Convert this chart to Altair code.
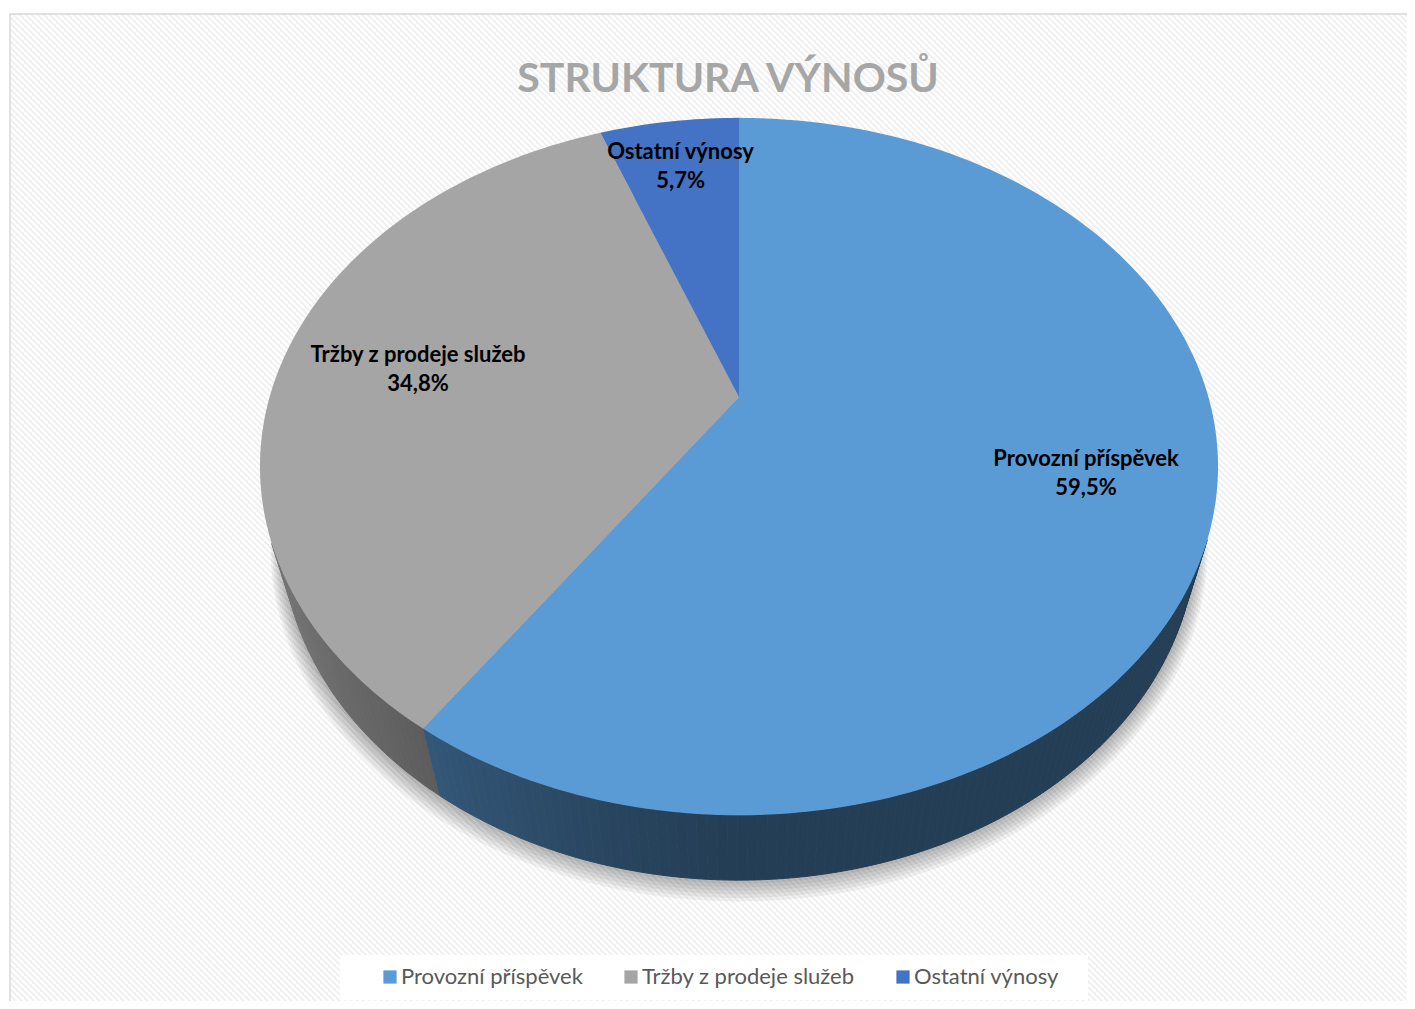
import numpy as np
import pandas as pd
import altair as alt

# ---------------- data ----------------
categories = ["Provozní příspěvek", "Tržby z prodeje služeb", "Ostatní výnosy"]
shares = [59.5, 34.8, 5.7]
share_labels = ["59,5%", "34,8%", "5,7%"]
top_colors = ["#5b9bd5", "#a5a5a5", "#4472c4"]
title_text = "STRUKTURA VÝNOSŮ"

# ---------------- style / geometry ----------------
W, H = 1399, 993
CX, CY = 731.0, 389.0          # apex of the pie (plot coordinates)
FOC = 1649.5                   # perspective focal length
DIST = 3.514                   # camera distance (in pie radii)
PHI = np.radians(45.5)         # elevation angle
DEPTH = 0.225                  # pie thickness (in radii)
label_radius = [0.74, 0.70, 0.81]
FONT = "Lato"


def proj(X, D, Hh):
    zc = DIST + D * np.cos(PHI) - Hh * np.sin(PHI)
    yc = D * np.sin(PHI) + Hh * np.cos(PHI)
    return CX + FOC * X / zc, CY - FOC * yc / zc


def hex_to_rgb(h):
    h = h.lstrip("#")
    return [int(h[i:i + 2], 16) for i in (0, 2, 4)]


def shade(h, f):
    r, g, b = hex_to_rgb(h)
    return "#%02x%02x%02x" % (int(r * f), int(g * f), int(b * f))


total = sum(shares)
cum = np.concatenate([[0.0], np.cumsum(shares)]) / total * 2 * np.pi

# top faces
top_rows = []
for i, cat in enumerate(categories):
    t1, t2 = cum[i], cum[i + 1]
    n = max(8, int(np.degrees(t2 - t1)))
    top_rows.append(dict(poly=f"top{i}", ord=0, x=CX, y=CY, cat=cat))
    for j, t in enumerate(np.linspace(t1, t2, n)):
        x, y = proj(np.sin(t), np.cos(t), 0.0)
        top_rows.append(dict(poly=f"top{i}", ord=j + 1, x=x, y=y, cat=cat))
top_df = pd.DataFrame(top_rows)

# side wall strips (visible front part only)
vis_cos = -1.0 / (DIST * np.cos(PHI))
side_rows = []
k = 0
for i, cat in enumerate(categories):
    t1, t2 = cum[i], cum[i + 1]
    n = max(3, int(np.degrees(t2 - t1)) + 1)
    ts = np.linspace(t1, t2, n)
    for a, b in zip(ts[:-1], ts[1:]):
        if not (np.cos(a) < vis_cos or np.cos(b) < vis_cos):
            continue
        mid = 0.5 * (a + b)
        f = 0.40 + 0.35 * max(0.0, -np.sin(mid)) ** 1.3
        col = shade(top_colors[i], f)
        pts = [proj(np.sin(a), np.cos(a), 0.0), proj(np.sin(b), np.cos(b), 0.0),
               proj(np.sin(b), np.cos(b), -DEPTH), proj(np.sin(a), np.cos(a), -DEPTH)]
        for o, (x, y) in enumerate(pts):
            side_rows.append(dict(poly=f"s{k}", ord=o, x=x, y=y, col=col))
        k += 1
side_df = pd.DataFrame(side_rows)

# soft shadow below the pie
sh_rows = []
ts = np.linspace(0, 2 * np.pi, 241)
for j in range(1, 7):
    s = 1 + 0.004 * j
    for o, t in enumerate(ts):
        x, y = proj(s * np.sin(t), s * np.cos(t), -DEPTH)
        sh_rows.append(dict(poly=f"sh{j}", ord=o, x=x, y=y + 1.5 * j))
sh_df = pd.DataFrame(sh_rows)

# background hatch
hatch_rows = []
for c in range(-W, W + 1, 6):
    ys = max(6, 2 - c)
    ye = min(H, W - c)
    if ys < ye:
        hatch_rows.append(dict(x=c + ys, y=ys, x2=c + ye, y2=ye))
hatch_df = pd.DataFrame(hatch_rows)

# labels
lab_rows = []
for i, cat in enumerate(categories):
    tm = 0.5 * (cum[i] + cum[i + 1])
    r = label_radius[i]
    x, y = proj(r * np.sin(tm), r * np.cos(tm), 0.0)
    lab_rows.append(dict(x=x, y=y, name=cat, pct=share_labels[i]))
lab_df = pd.DataFrame(lab_rows)

# ---------------- chart ----------------
xs = alt.Scale(domain=[0, W], nice=False, zero=False)
ys = alt.Scale(domain=[0, H], nice=False, zero=False, reverse=True)
X = alt.X("x:Q", scale=xs, axis=None)
Y = alt.Y("y:Q", scale=ys, axis=None)

one = pd.DataFrame({"a": [0]})
frame = alt.Chart(one).mark_rect(fill="white").encode(
    x=alt.value(2), x2=alt.value(1500), y=alt.value(6), y2=alt.value(1100))
frame_line = alt.Chart(one).mark_rect(
    fill=None, stroke="#d9d9d9", strokeWidth=1.5).encode(
    x=alt.value(2), x2=alt.value(1500), y=alt.value(6), y2=alt.value(1100))

hatch = alt.Chart(hatch_df).mark_rule(color="#f1f1f1", strokeWidth=2.2).encode(
    x=X, y=Y, x2="x2:Q", y2="y2:Q")

shadow = alt.Chart(sh_df).mark_line(filled=True, fill="#000000", fillOpacity=0.05,
                                    strokeWidth=0).encode(
    x=X, y=Y, detail="poly:N", order="ord:Q")

sides = alt.Chart(side_df).mark_line(filled=True, strokeWidth=1).encode(
    x=X, y=Y, detail="poly:N", order="ord:Q",
    fill=alt.Fill("col:N", scale=None, legend=None),
    stroke=alt.Stroke("col:N", scale=None, legend=None))

tops = alt.Chart(top_df).mark_line(filled=True, strokeWidth=0).encode(
    x=X, y=Y, detail="poly:N", order="ord:Q",
    color=alt.Color("cat:N", scale=alt.Scale(domain=categories, range=top_colors),
                    legend=alt.Legend(orient="none", legendX=371, legendY=958,
                                      direction="horizontal", columns=3, title=None,
                                      symbolType="square", symbolSize=175,
                                      symbolStrokeWidth=0, symbolOpacity=1,
                                      labelFont=FONT, labelFontSize=22,
                                      labelColor="#595959", labelOffset=0,
                                      labelLimit=0,
                                      columnPadding=37, padding=0, zindex=5)))

legend_box = alt.Chart(one).mark_rect(fill="white").encode(
    x=alt.value(332), x2=alt.value(1080), y=alt.value(947), y2=alt.value(992))

names = alt.Chart(lab_df).mark_text(font=FONT, fontWeight="bold", fontSize=22,
                                    color="black", dy=-14.5, baseline="middle").encode(
    x=X, y=Y, text="name:N")
pcts = alt.Chart(lab_df).mark_text(font=FONT, fontWeight="bold", fontSize=22,
                                   color="black", dy=14.5, baseline="middle").encode(
    x=X, y=Y, text="pct:N")

title = alt.Chart(pd.DataFrame({"t": [title_text]})).mark_text(
    font=FONT, fontWeight="bold", fontSize=41, color="#a6a6a6",
    baseline="alphabetic", align="center").encode(
    x=alt.value(720), y=alt.value(84), text="t:N")

chart = alt.layer(frame, hatch, frame_line, legend_box, shadow, sides, tops,
                  names, pcts, title).properties(
    width=W, height=H, autosize="none", padding=0
).configure_view(stroke=None)

chart.save("out.html", embed_options={"renderer": "svg", "actions": False})
